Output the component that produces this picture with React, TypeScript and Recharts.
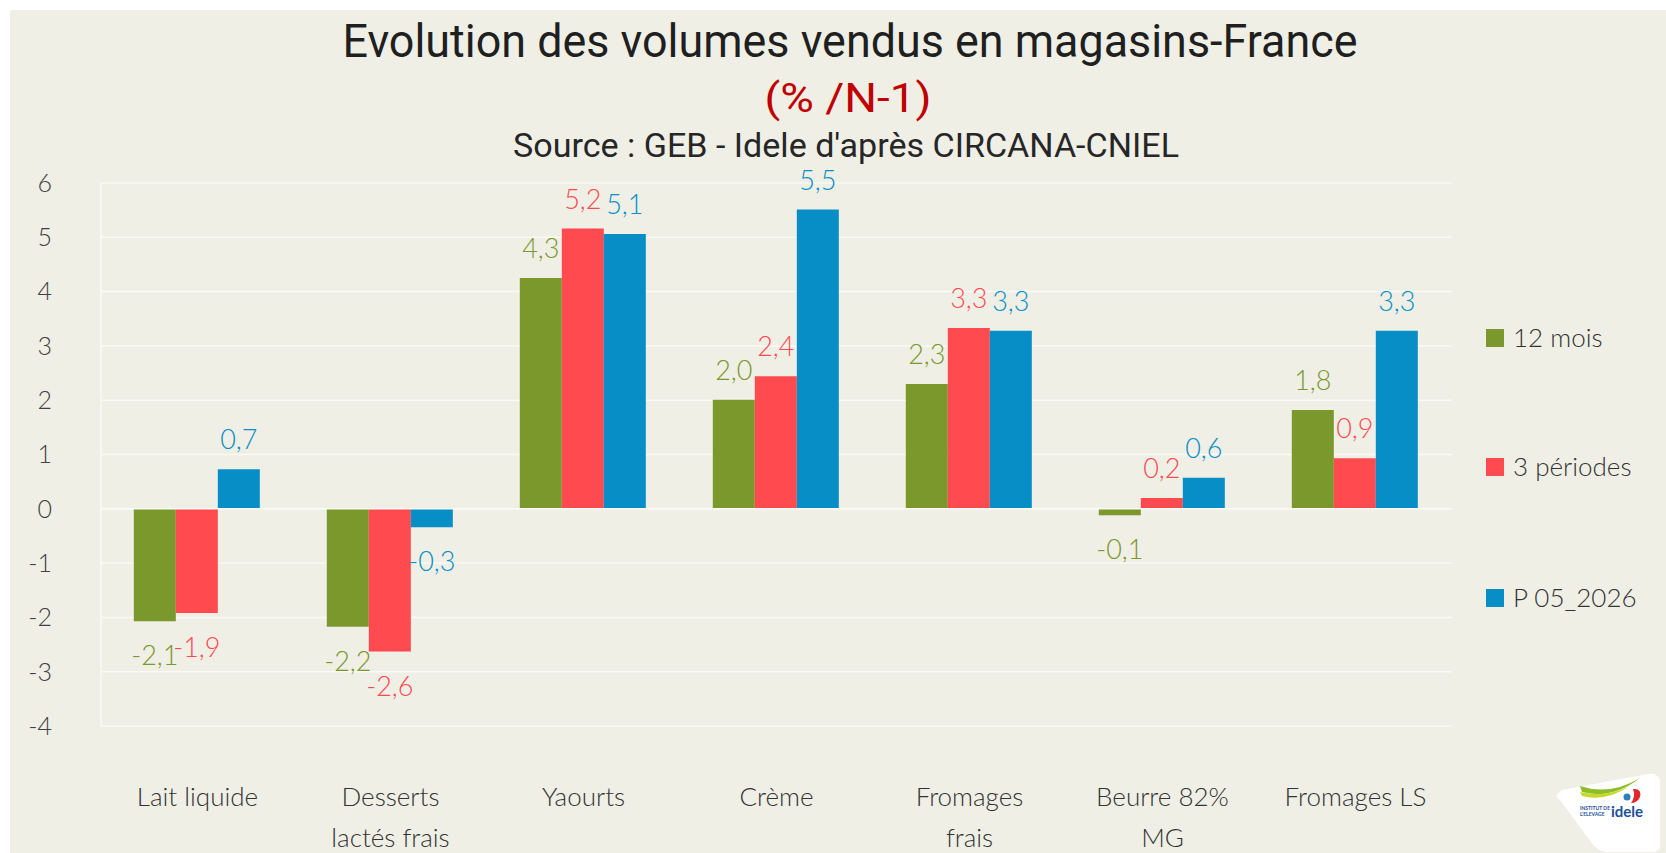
import React from 'react';
import { BarChart, Bar, XAxis, YAxis, CartesianGrid, LabelList, ReferenceLine } from 'recharts';

// Evolution des volumes vendus en magasins (% / N-1)
const categories = [
  'Lait liquide',
  'Desserts\nlactés frais',
  'Yaourts',
  'Crème',
  'Fromages\nfrais',
  'Beurre 82%\nMG',
  'Fromages LS',
];
const douzeMois = [-2.07, -2.17, 4.25, 2.01, 2.3, -0.12, 1.82];
const troisPeriodes = [-1.92, -2.63, 5.16, 2.44, 3.33, 0.2, 0.93];
const p052026 = [0.73, -0.34, 5.06, 5.51, 3.28, 0.57, 3.28];
const yTicks = [-4, -3, -2, -1, 0, 1, 2, 3, 4, 5, 6];

const series = [
  { key: 'm12', name: '12 mois', color: '#7A982C', values: douzeMois },
  { key: 'p3', name: '3 périodes', color: '#FF4A4F', values: troisPeriodes },
  { key: 'p05', name: 'P 05_2026', color: '#078EC6', values: p052026 },
];

const data = categories.map((cat, i) => {
  const row: any = { cat };
  series.forEach((s) => (row[s.key] = s.values[i]));
  return row;
});

const W = 1666;
const H = 853;
const BG = '#EFEFE6';
const GRID = '#FAFAF6';
const FONT = 'Lato, "Noto Sans", sans-serif';

const fmt = (v: number) => v.toFixed(1).replace('.', ',');

function CatTick(props: any) {
  const { x, y, payload } = props;
  const lines = String(payload.value).split('\n');
  return (
    <text x={x} y={y} textAnchor="middle" fill="#333333" fontSize={26} fontWeight={300} fontFamily={FONT}>
      {lines.map((l, i) => (
        <tspan key={i} x={x} dy={i === 0 ? 72 : 41}>
          {l}
        </tspan>
      ))}
    </text>
  );
}

// value label: above positive bars, below negative ones
function makeLabel(color: string) {
  return (p: any) => {
    const { x, y, width, height, value } = p;
    const v = Number(value);
    const top = Math.min(y, y + height);
    const bottom = Math.max(y, y + height);
    const cx = x + width / 2;
    const ty = v < 0 ? bottom + 44 : top - 20;
    return (
      <text x={cx} y={ty} textAnchor="middle" fontSize={27} fontWeight={300} fill={color} fontFamily={FONT}>
        {fmt(v)}
      </text>
    );
  };
}

function Overlay() {
  const legendY = [338, 467, 598];
  return (
    <svg width={W} height={H} style={{ position: 'absolute', left: 0, top: 0, pointerEvents: 'none' }}>
      <text x={850} y={57} textAnchor="middle" fontSize={46} fill="#1f1f1f"
        fontFamily='Roboto, sans-serif' textLength={1015} lengthAdjust="spacingAndGlyphs">
        Evolution des volumes vendus en magasins-France
      </text>
      <text x={848} y={112} textAnchor="middle" fontSize={41} fill="#C00000"
        fontFamily='Roboto, sans-serif' textLength={167} lengthAdjust="spacingAndGlyphs">
        (% /N-1)
      </text>
      <text x={846} y={157} textAnchor="middle" fontSize={33} fill="#262626"
        fontFamily='Roboto, sans-serif' textLength={666} lengthAdjust="spacingAndGlyphs">
        Source : GEB - Idele d'après CIRCANA-CNIEL
      </text>

      {series.map((s, i) => (
        <g key={s.key}>
          <rect x={1486} y={legendY[i] - 9} width={18} height={18} fill={s.color} />
          <text x={1513} y={legendY[i] + 9} fontSize={26} fontWeight={300} fill="#333333" fontFamily={FONT}>
            {s.name}
          </text>
        </g>
      ))}

      {/* idele logo */}
      <g>
        <path d="M1560 800 Q1552 796 1562 790 L1648 774 Q1660 772 1660 784 L1660 846 Q1660 852 1652 852 L1610 852 Q1600 852 1594 846 Z"
          fill="#ffffff" />
        <path d="M1580 786 Q1610 796 1640 778 Q1612 800 1582 792 Z" fill="#8DBE2A" />
        <path d="M1580 792 Q1606 798 1630 786 Q1606 802 1582 796 Z" fill="#C8D82A" />
        <path d="M1633 789 Q1642 788 1640 797 Q1637 803 1631 803 Q1636 796 1633 789 Z" fill="#E3262B" />
        <circle cx={1627} cy={797} r={3.5} fill="#2E7FC0" />
        <text x={1580} y={810} fontSize={5} fill="#1A4F9C" fontFamily={FONT} fontWeight={700}>INSTITUT DE</text>
        <text x={1580} y={816} fontSize={5} fill="#1A4F9C" fontFamily={FONT} fontWeight={700}>L'ELEVAGE</text>
        <text x={1611} y={817} fontSize={15} fill="#1A4F9C" fontFamily={FONT} fontWeight={700}>idele</text>
      </g>
    </svg>
  );
}

export default function App() {
  return (
    <div style={{ position: 'absolute', left: 0, top: 0, width: W, height: H, background: '#ffffff' }}>
      <div style={{ position: 'absolute', left: 10, top: 10, width: W - 10, height: H - 10, background: BG }} />
      <div style={{ position: 'absolute', left: 0, top: 0 }}>
        <BarChart
          width={W}
          height={H}
          data={data}
          margin={{ top: 183, right: 214, left: 41, bottom: 37 }}
          barCategoryGap="17%"
          barGap={0}
        >
          <CartesianGrid vertical={false} stroke={GRID} strokeWidth={1.5} />
          <XAxis
            dataKey="cat"
            height={90}
            axisLine={false}
            tickLine={false}
            interval={0}
            tick={<CatTick />}
          />
          <YAxis
            width={60}
            domain={[-4, 6]}
            ticks={yTicks}
            interval={0}
            axisLine={{ stroke: GRID, strokeWidth: 1.5 }}
            tickLine={false}
            tickMargin={43}
            tick={{ fontSize: 25, fill: '#404040', fontFamily: FONT, fontWeight: 300 }}
          />
          <ReferenceLine y={0} stroke={GRID} strokeWidth={1.5} />
          {series.map((s) => (
            <Bar key={s.key} dataKey={s.key} name={s.name} fill={s.color} isAnimationActive={false}>
              <LabelList dataKey={s.key} content={makeLabel(s.color)} />
            </Bar>
          ))}
        </BarChart>
      </div>
      <Overlay />
    </div>
  );
}
